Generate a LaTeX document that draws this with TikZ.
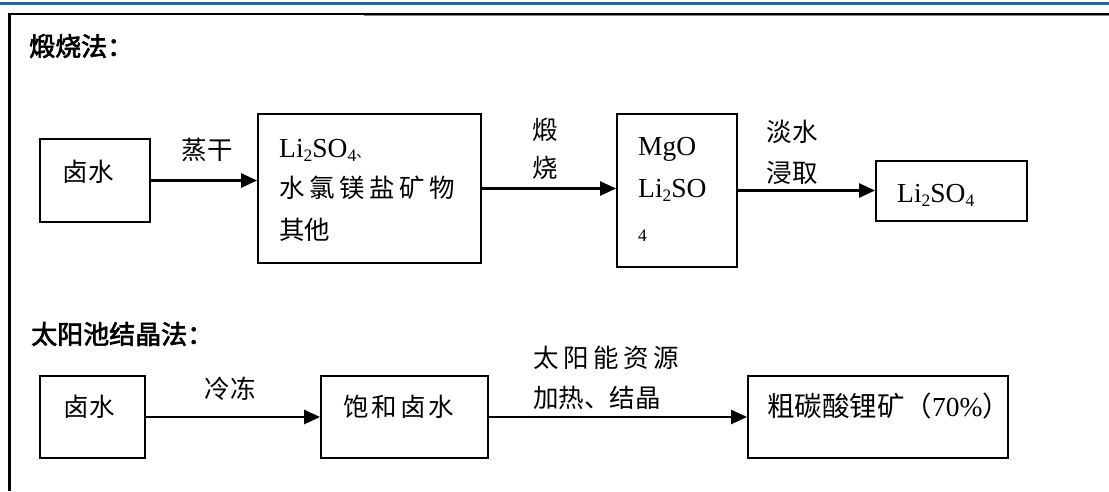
\documentclass[tikz,border=0pt]{standalone}
\usepackage{fontspec}
\setmainfont{Liberation Serif}
\newfontfamily\cjk{Noto Sans CJK SC}
\newfontfamily\cjkt{Noto Sans CJK SC}[FakeBold=2.5]
\usetikzlibrary{arrows.meta}
\definecolor{topblue}{RGB}{49,99,150}
\newcommand\lsub[1]{\raisebox{-4.5pt}{\fontsize{17.5}{17.5}\selectfont #1}}
\newcommand\gp{\hspace{4.5pt}}
\newcommand\gq{\hspace{3pt}}
\tikzset{
  box/.style={draw, line width=1.8pt, inner sep=0pt},
  arr/.style={line width=2.4pt, -{Triangle[length=16pt,width=14pt]}},
  lat/.style={inner sep=0pt, anchor=base west, font=\fontsize{27.5}{27.5}\selectfont},
  zh/.style={inner sep=0pt, font=\cjk\fontsize{25.5}{25.5}\selectfont},
  zhw/.style={zh, anchor=west},
  ttl/.style={inner sep=0pt, anchor=west, font=\cjkt\fontsize{26}{26}\selectfont}
}
\begin{document}
\begin{tikzpicture}[x=1pt,y=-1pt]
\useasboundingbox (0,0) rectangle (1109,491);
% header rule and frame
\draw[topblue, line width=3pt] (0,3.5) -- (1109,3.5);
\draw[line width=2.2pt] (9.5,491) -- (9.5,14) -- (1109,14);
\draw[gray, line width=0.8pt] (364,15.8) -- (1109,15.8);

% titles
\node[ttl] (title1) at (29,46) {煅烧法：};
\node[ttl] (title2) at (31,334) {太阳池结晶法：};

% row 1 boxes
\node[box, minimum width=110pt, minimum height=83pt] (b1) at (95,180.5) {};
\node[box, minimum width=223pt, minimum height=149pt] (b2) at (369.5,188.5) {};
\node[box, minimum width=120pt, minimum height=153pt] (b3) at (677,190.5) {};
\node[box, minimum width=151pt, minimum height=60pt] (b4) at (951.5,191) {};

% row 1 box texts
\node[zh] (t1) at (88,172) {卤水};
\node[lat] (t2a) at (279,157) {Li\lsub{2}SO\lsub{4}{\cjk\fontsize{14}{14}\selectfont 、}};
\node[zhw] (t2b) at (279,188) {水\gp 氯\gp 镁\gp 盐\gp 矿\gp 物};
\node[zhw] (t2c) at (279,230) {其他};
\node[lat] (t3a) at (638,155) {MgO};
\node[lat] (t3b) at (638,197) {Li\lsub{2}SO};
\node[lat, font=\fontsize{17.5}{17.5}\selectfont] (t3c) at (638,241.5) {4};
\node[lat] (t4) at (897,202) {Li\lsub{2}SO\lsub{4}};

% row 1 arrows and labels
\draw[arr] (b1.east) -- (b1.east -| b2.west);
\draw[arr] (b2.east) -- (b2.east -| b3.west);
\draw[arr] (b3.east) -- (b3.east -| b4.west);
\node[zh] (l1) at (207,150) {蒸干};
\node[zh] (l2a) at (545,130) {煅};
\node[zh] (l2b) at (545,168) {烧};
\node[zh] (l3a) at (792,132) {淡水};
\node[zh] (l3b) at (792,173) {浸取};

% row 2 boxes
\node[box, minimum width=105pt, minimum height=82pt] (c1) at (92.5,417) {};
\node[box, minimum width=167pt, minimum height=82pt] (c2) at (404.5,417) {};
\node[box, minimum width=260pt, minimum height=82pt] (c3) at (878,417) {};

\node[zh] (u1) at (89,407) {卤水};
\node[zhw] (u2) at (343,407) {饱\gq 和\gq 卤\gq 水};
\node[lat] (u3) at (767,416.5) {{\cjk 粗碳酸锂矿（}70\%{\cjk ）}};

% row 2 arrows and labels
\draw[arr] (c1.east) -- (c1.east -| c2.west);
\draw[arr] (c2.east) -- (c2.east -| c3.west);
\node[zh] (m1) at (230,389) {冷冻};
\node[zhw] (m2a) at (533,358) {太\gp 阳\gp 能\gp 资\gp 源};
\node[zhw] (m2b) at (533,398) {加热、结晶};
\end{tikzpicture}
\end{document}
